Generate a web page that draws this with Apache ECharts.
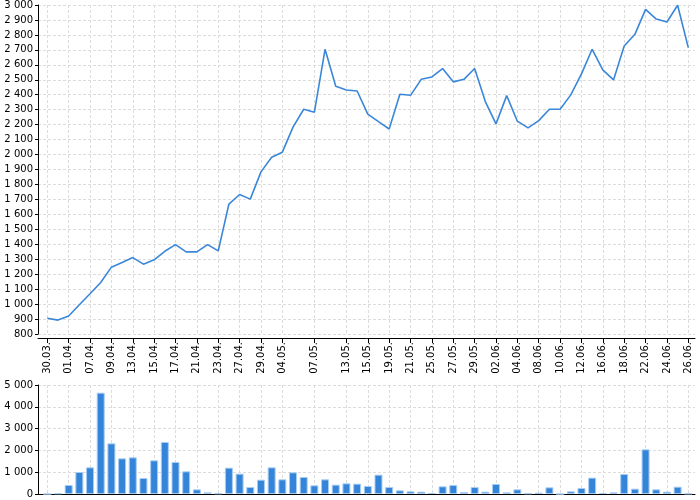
<!DOCTYPE html>
<html>
<head>
<meta charset="utf-8">
<script src="https://cdn.jsdelivr.net/npm/echarts@6/dist/echarts.min.js"></script>
<style>html,body{margin:0;padding:0;background:#fff}#c{width:700px;height:500px}</style>
</head>
<body>
<div id="c"></div>
<script>
var dates = ['30.03.','31.03.','01.04.','06.04.','07.04.','08.04.','09.04.','10.04.','13.04.','14.04.',
  '15.04.','16.04.','17.04.','20.04.','21.04.','22.04.','23.04.','24.04.','27.04.','28.04.',
  '29.04.','30.04.','04.05.','05.05.','06.05.','07.05.','08.05.','12.05.','13.05.','14.05.',
  '15.05.','18.05.','19.05.','20.05.','21.05.','22.05.','25.05.','26.05.','27.05.','28.05.',
  '29.05.','01.06.','02.06.','03.06.','04.06.','05.06.','08.06.','09.06.','10.06.','11.06.',
  '12.06.','15.06.','16.06.','17.06.','18.06.','19.06.','22.06.','23.06.','24.06.','25.06.','26.06.'];
var tickLabels = ['30.03.','01.04.','07.04.','09.04.','13.04.','15.04.','17.04.','21.04.','23.04.','27.04.',
  '29.04.','04.05.','07.05.','13.05.','15.05.','19.05.','21.05.','25.05.','27.05.','29.05.',
  '02.06.','04.06.','08.06.','10.06.','12.06.','16.06.','18.06.','22.06.','24.06.','26.06.'];
var prices = [905,893,920,996,1069,1144,1247,1278,1311,1267,
  1296,1353,1398,1349,1349,1398,1356,1669,1733,1702,
  1884,1982,2016,2183,2303,2283,2704,2457,2432,2425,
  2270,2220,2171,2403,2396,2503,2519,2575,2486,2503,
  2575,2354,2205,2394,2223,2178,2227,2303,2303,2399,
  2539,2704,2566,2499,2726,2804,2971,2906,2886,2998,2715];
var volumes = [0,30,413,1009,1223,4648,2324,1636,1682,734,
  1544,2385,1468,1040,214,76,30,1208,933,321,
  657,1223,673,994,780,398,673,428,489,474,
  367,887,321,168,122,107,46,352,413,92,
  321,107,459,76,214,30,61,306,0,122,
  275,749,46,76,917,245,2049,214,107,336,20];

var FONT = 'DejaVu Sans';
function fmt(v){ return String(v).replace(/\B(?=(\d{3})+(?!\d))/g, ' '); }
function shown(idx, val){ return tickLabels.indexOf(val) >= 0; }
var gridLine = {show:true, lineStyle:{color:'#dcdcdc', type:[3,2], width:1}};
var blackLine = {show:true, onZero:false, lineStyle:{color:'#000', width:1}};
var hiddenAxis = {show:false};

var chart = echarts.init(document.getElementById('c'), null, {renderer:'canvas'});
chart.setOption({
  animation:false,
  textStyle:{fontFamily:FONT},
  grid:[
    {left:38, top:5, width:657, height:329},
    {left:47.3, top:5, width:641, height:329},
    {left:38, top:385, width:657, height:109},
    {left:47.3, top:385, width:641, height:109}
  ],
  xAxis:[
    {gridIndex:0, type:'category', data:dates, boundaryGap:false, offset:4,
      axisLine:blackLine, axisTick:{show:false}, axisLabel:{show:false}, splitLine:{show:false}},
    {gridIndex:1, type:'category', data:dates, boundaryGap:false, offset:4,
      axisLine:{show:false},
      axisTick:{show:true, interval:shown, length:5, lineStyle:{color:'#000'}},
      axisLabel:{show:true, interval:shown, rotate:90, fontSize:10, color:'#000', margin:4, fontFamily:FONT},
      splitLine:{show:true, interval:shown, lineStyle:gridLine.lineStyle}},
    {gridIndex:2, type:'category', data:dates, boundaryGap:false,
      axisLine:blackLine, axisTick:{show:false}, axisLabel:{show:false}, splitLine:{show:false}},
    {gridIndex:3, type:'category', data:dates, boundaryGap:false,
      axisLine:{show:false}, axisTick:{show:false}, axisLabel:{show:false},
      splitLine:{show:true, interval:shown, lineStyle:gridLine.lineStyle}}
  ],
  yAxis:[
    {gridIndex:0, type:'value', min:800, max:3000, interval:100,
      axisLine:blackLine, axisTick:{show:true, length:3, lineStyle:{color:'#000'}},
      axisLabel:{formatter:fmt, fontSize:10, color:'#000', margin:5, fontFamily:FONT},
      splitLine:gridLine},
    {gridIndex:1, type:'value', min:800, max:3000, interval:100, show:false},
    {gridIndex:2, type:'value', min:0, max:5000, interval:1000,
      axisLine:blackLine, axisTick:{show:true, length:3, lineStyle:{color:'#000'}},
      axisLabel:{formatter:fmt, fontSize:10, color:'#000', margin:5, fontFamily:FONT},
      splitLine:gridLine},
    {gridIndex:3, type:'value', min:0, max:5000, interval:1000, show:false}
  ],
  series:[
    {type:'line', xAxisIndex:1, yAxisIndex:1, data:prices, showSymbol:false, symbol:'none',
      lineStyle:{color:'#3a87da', width:1.6}},
    {type:'bar', xAxisIndex:3, yAxisIndex:3, data:volumes, barWidth:8,
      itemStyle:{color:'#3485d9', borderColor:'#a8cdf3', borderWidth:1}}
  ]
});
</script>
</body>
</html>
